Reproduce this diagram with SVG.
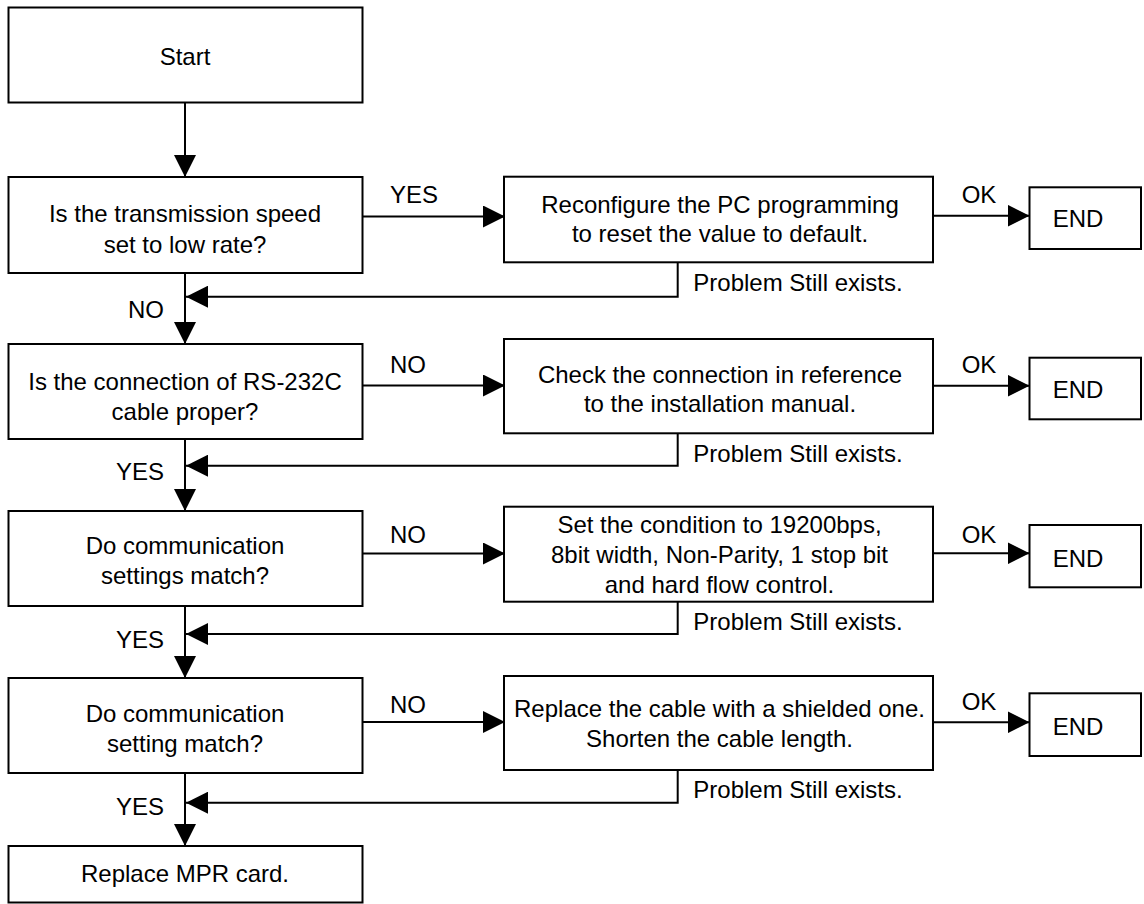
<svg xmlns="http://www.w3.org/2000/svg" width="1144" height="904" viewBox="0 0 1144 904">
<style>
.box{fill:#fff;stroke:#000;stroke-width:2}
.t{font-family:"Liberation Sans",Arial,sans-serif;font-size:24px;fill:#000}
.c{text-anchor:middle}
.e{text-anchor:end}
.ln{fill:none;stroke:#000;stroke-width:2}
</style>
<defs>
<marker id="ah" markerUnits="userSpaceOnUse" markerWidth="22" markerHeight="22" refX="22" refY="11" orient="auto" viewBox="0 0 22 22">
<path d="M0,0 L22,11 L0,22 z" fill="#000"/>
</marker>
</defs>
<rect width="1144" height="904" fill="#fff"/>

<g id="connectors">
<path class="ln" marker-end="url(#ah)" d="M185,102.5 V177"/>
<path class="ln" marker-end="url(#ah)" d="M185,273 V344"/>
<path class="ln" marker-end="url(#ah)" d="M185,439 V511"/>
<path class="ln" marker-end="url(#ah)" d="M185,606 V678"/>
<path class="ln" marker-end="url(#ah)" d="M185,773 V846"/>

<path class="ln" marker-end="url(#ah)" d="M362.5,216.5 H505"/>
<path class="ln" marker-end="url(#ah)" d="M362.5,385.5 H505"/>
<path class="ln" marker-end="url(#ah)" d="M362.5,553.5 H505"/>
<path class="ln" marker-end="url(#ah)" d="M362.5,722 H505"/>

<path class="ln" marker-end="url(#ah)" d="M933,215.7 H1029.5"/>
<path class="ln" marker-end="url(#ah)" d="M933,385.7 H1029.5"/>
<path class="ln" marker-end="url(#ah)" d="M933,553.3 H1029.5"/>
<path class="ln" marker-end="url(#ah)" d="M933,722.3 H1029.5"/>

<path class="ln" marker-end="url(#ah)" d="M677.7,262.3 V296.7 H186"/>
<path class="ln" marker-end="url(#ah)" d="M677.7,433.3 V465.7 H186"/>
<path class="ln" marker-end="url(#ah)" d="M677.7,601.7 V634 H186"/>
<path class="ln" marker-end="url(#ah)" d="M677.7,770 V802.7 H186"/>

<text class="t" x="390" y="203.3">YES</text>
<text class="t" x="390" y="373.3">NO</text>
<text class="t" x="390" y="542.7">NO</text>
<text class="t" x="390" y="712.7">NO</text>

<text class="t" x="961.7" y="203.3">OK</text>
<text class="t" x="961.7" y="373.3">OK</text>
<text class="t" x="961.7" y="542.7">OK</text>
<text class="t" x="961.7" y="710">OK</text>

<text class="t" x="693.3" y="290.7">Problem Still exists.</text>
<text class="t" x="693.3" y="461.7">Problem Still exists.</text>
<text class="t" x="693.3" y="630">Problem Still exists.</text>
<text class="t" x="693.3" y="798.3">Problem Still exists.</text>

<text class="t e" x="164" y="318">NO</text>
<text class="t e" x="164" y="480">YES</text>
<text class="t e" x="164" y="648.3">YES</text>
<text class="t e" x="164" y="815">YES</text>
</g>

<g id="start">
<rect class="box" x="8.5" y="7.5" width="354" height="95"/>
<text class="t c" x="185" y="65">Start</text>
</g>

<g id="q1">
<rect class="box" x="8.5" y="177" width="354" height="96"/>
<text class="t c" x="185" y="221.5">Is the transmission speed</text>
<text class="t c" x="185" y="253">set to low rate?</text>
</g>
<g id="a1">
<rect class="box" x="504" y="176.7" width="429" height="85.6"/>
<text class="t c" x="720" y="212.7">Reconfigure the PC programming</text>
<text class="t c" x="720" y="241.7">to reset the value to default.</text>
</g>
<g id="end1">
<rect class="box" x="1029.5" y="187.3" width="111.5" height="61.7"/>
<text class="t c" x="1078" y="226.7">END</text>
</g>

<g id="q2">
<rect class="box" x="8.5" y="344" width="354" height="95"/>
<text class="t c" x="185" y="390">Is the connection of RS-232C</text>
<text class="t c" x="185" y="420">cable proper?</text>
</g>
<g id="a2">
<rect class="box" x="504" y="339" width="429" height="94.3"/>
<text class="t c" x="720" y="383.3">Check the connection in reference</text>
<text class="t c" x="720" y="411.7">to the installation manual.</text>
</g>
<g id="end2">
<rect class="box" x="1029.5" y="357.7" width="111.5" height="61.6"/>
<text class="t c" x="1078" y="398.3">END</text>
</g>

<g id="q3">
<rect class="box" x="8.5" y="511" width="354" height="95"/>
<text class="t c" x="185" y="554">Do communication</text>
<text class="t c" x="185" y="583.5">settings match?</text>
</g>
<g id="a3">
<rect class="box" x="504" y="506.7" width="429" height="95"/>
<text class="t c" x="719.5" y="533.3">Set the condition to 19200bps,</text>
<text class="t c" x="719.5" y="563.3">8bit width, Non-Parity, 1 stop bit</text>
<text class="t c" x="719.5" y="593.3">and hard flow control.</text>
</g>
<g id="end3">
<rect class="box" x="1029.5" y="525" width="111.5" height="62.3"/>
<text class="t c" x="1078" y="566.7">END</text>
</g>

<g id="q4">
<rect class="box" x="8.5" y="678" width="354" height="95"/>
<text class="t c" x="185" y="721.5">Do communication</text>
<text class="t c" x="185" y="751.5">setting match?</text>
</g>
<g id="a4">
<rect class="box" x="504" y="676" width="429" height="94"/>
<text class="t c" x="719.5" y="716.7">Replace the cable with a shielded one.</text>
<text class="t c" x="719.5" y="747.3">Shorten the cable length.</text>
</g>
<g id="end4">
<rect class="box" x="1029.5" y="693.3" width="111.5" height="62.7"/>
<text class="t c" x="1078" y="735">END</text>
</g>

<g id="final">
<rect class="box" x="8.5" y="846" width="354" height="56.5"/>
<text class="t c" x="185" y="881.5">Replace MPR card.</text>
</g>
</svg>
